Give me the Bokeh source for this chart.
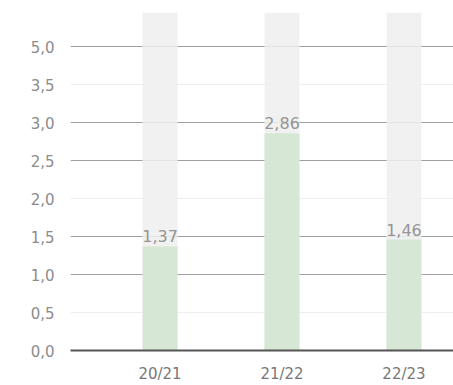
from bokeh.plotting import figure
from bokeh.models import Range1d, FixedTicker, Grid, ColumnDataSource, LabelSet
from bokeh.core.properties import value
from bokeh.embed import file_html
from bokeh.resources import INLINE

categories = ["20/21", "21/22", "22/23"]
values = [1.37, 2.86, 1.46]
value_labels = ["1,37", "2,86", "1,46"]
y_ticks = [0.0, 0.5, 1.0, 1.5, 2.0, 2.5, 3.0, 3.5, 4.0]
y_tick_labels = ["0,0", "0,5", "1,0", "1,5", "2,0", "2,5", "3,0", "3,5", "5,0"]
strong_grid = [1.0, 1.5, 2.5, 3.0, 4.0]
faint_grid = [0.5, 2.0, 3.5]
background_top = 4.45

xs = list(range(len(categories)))
src = ColumnDataSource(dict(x=xs, v=values, lab=value_labels,
                            bg=[background_top] * len(xs)))

p = figure(width=453, height=385, output_backend="svg", toolbar_location=None,
           x_range=Range1d(-0.734, 2.406), y_range=Range1d(0, background_top),
           min_border_left=70, min_border_right=0, min_border_top=12,
           min_border_bottom=35)
p.outline_line_color = None
p.xgrid.visible = False
p.ygrid.visible = False

g1 = Grid(dimension=1, ticker=FixedTicker(ticks=strong_grid),
          grid_line_color="#a0a0a0", grid_line_width=1)
g2 = Grid(dimension=1, ticker=FixedTicker(ticks=faint_grid),
          grid_line_color="#eeeeee", grid_line_width=1)
p.add_layout(g1)
p.add_layout(g2)

p.vbar(x="x", top="bg", bottom=0, width=0.287, source=src,
       fill_color="#eeeeee", fill_alpha=0.85, line_color=None)
p.vbar(x="x", top="v", bottom=0, width=0.287, source=src,
       fill_color="#d3e5d1", fill_alpha=0.9, line_color=None)

labels = LabelSet(x="x", y="v", text="lab", source=src, text_align="center",
                  text_baseline="bottom", y_offset=4,
                  text_font=value("DejaVu Sans"),
                  text_font_size=value("16px"), text_color="#959595")
p.add_layout(labels)

p.yaxis.ticker = FixedTicker(ticks=y_ticks)
p.yaxis.major_label_overrides = {t: l for t, l in zip(y_ticks, y_tick_labels)}
p.yaxis.axis_line_color = None
p.yaxis.major_tick_line_color = None
p.yaxis.minor_tick_line_color = None
p.yaxis.major_label_standoff = 10
p.yaxis.major_label_text_font = "DejaVu Sans"
p.yaxis.major_label_text_font_size = "15px"
p.yaxis.major_label_text_color = "#8c8c8c"

p.xaxis.ticker = FixedTicker(ticks=xs)
p.xaxis.major_label_overrides = {x: c for x, c in zip(xs, categories)}
p.xaxis.axis_line_color = "#555555"
p.xaxis.axis_line_width = 2
p.xaxis.major_tick_line_color = None
p.xaxis.minor_tick_line_color = None
p.xaxis.major_label_standoff = 8
p.xaxis.major_label_text_font = "DejaVu Sans"
p.xaxis.major_label_text_font_size = "15px"
p.xaxis.major_label_text_color = "#777777"

open("out.html", "w").write(file_html(p, INLINE))
